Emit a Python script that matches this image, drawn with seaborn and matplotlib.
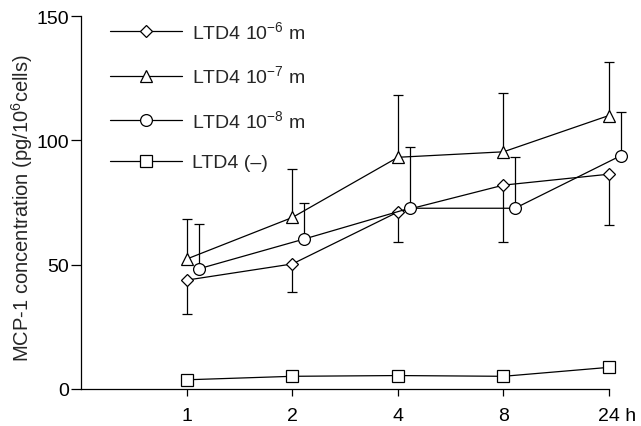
import numpy as np
import pandas as pd
import matplotlib
matplotlib.use("Agg")
import matplotlib.pyplot as plt
import matplotlib.transforms as mtransforms
from matplotlib.lines import Line2D
import seaborn as sns

# ---- data ----
time_labels = ["1", "2", "4", "8", "24 h"]
ltd4_1e6 = [43.8, 50.3, 71.2, 82.0, 86.4]
ltd4_1e6_err_down = [13.8, 11.2, 12.2, 22.8, 20.4]
ltd4_1e7 = [52.3, 69.0, 93.2, 95.4, 110.0]
ltd4_1e7_err_up = [16.1, 19.5, 25.1, 23.6, 21.4]
ltd4_1e8 = [48.3, 60.3, 72.7, 72.7, 93.8]
ltd4_1e8_err_up = [18.0, 14.4, 24.7, 20.8, 17.7]
ltd4_none = [3.7, 5.1, 5.4, 5.1, 8.7]

series_labels = [r"LTD4 10$^{\mathregular{-6}}$ m",
                 r"LTD4 10$^{\mathregular{-7}}$ m",
                 r"LTD4 10$^{\mathregular{-8}}$ m",
                 "LTD4 (\u2013)"]

# ---- styling ----
sns.set_style("ticks")
plt.rcParams["font.family"] = ["Liberation Sans", "DejaVu Sans"]
plt.rcParams["mathtext.fontset"] = "custom"
plt.rcParams["mathtext.rm"] = "Liberation Sans"
plt.rcParams["mathtext.it"] = "Liberation Sans:italic"
plt.rcParams["mathtext.bf"] = "Liberation Sans:bold"

fig = plt.figure(figsize=(6.41, 4.27), dpi=100)
ax = fig.add_axes([0.127, 0.0867, 0.823, 0.8733])

pos = np.arange(1, len(time_labels) + 1)
styles = [
    dict(marker="D", ms=6.0, dx=0.0),
    dict(marker="^", ms=8.0, dx=0.0),
    dict(marker="o", ms=8.5, dx=0.11),
    dict(marker="s", ms=8.0, dx=0.0),
]
values = [ltd4_1e6, ltd4_1e7, ltd4_1e8, ltd4_none]
errs = [(ltd4_1e6_err_down, -1), (ltd4_1e7_err_up, 1), (ltd4_1e8_err_up, 1), None]

lw = 0.9
for vals, st, lab, er in zip(values, styles, series_labels, errs):
    x = pos + st["dx"]
    y = np.array(vals)
    df = pd.DataFrame({"x": x, "y": y})
    if er is not None:
        e, sign = er
        tip = y + sign * np.array(e)
        ax.vlines(x, y, tip, color="black", lw=lw, zorder=2, clip_on=False)
        ax.plot(x, tip, ls="none", marker="_", ms=7.5, mew=lw, color="black", zorder=2, clip_on=False)
    sns.lineplot(data=df, x="x", y="y", ax=ax, color="black", lw=lw,
                 marker=st["marker"], markersize=st["ms"], markerfacecolor="white",
                 markeredgecolor="black", markeredgewidth=0.9, zorder=3,
                 clip_on=False, errorbar=None, sort=False)

ax.set_xlim(0, 5)
ax.set_ylim(0, 150)
ax.set_xticks(pos)
ax.set_xticklabels(time_labels)
ax.set_yticks([0, 50, 100, 150])
ax.tick_params(axis="both", labelsize=14, width=0.9, color="black", labelcolor="black")
ax.tick_params(axis="y", length=7, pad=2)
ax.tick_params(axis="x", length=5, pad=8)
for s in ["top", "right"]:
    ax.spines[s].set_visible(False)
for s in ["left", "bottom"]:
    ax.spines[s].set_linewidth(0.9)
    ax.spines[s].set_color("black")
ax.set_xlabel("")
ax.set_ylabel(r"MCP-1 concentration (pg/10$^{\mathregular{6}}$cells)", fontsize=14.5)
ax.yaxis.set_label_coords(-0.0877, 0.488)

# shift "24 h" so that "24" sits under the tick
lbls = ax.get_xticklabels()
last = lbls[-1]
last.set_horizontalalignment("left")
last.set_transform(last.get_transform() + mtransforms.ScaledTranslation(-8 / 72, 0, fig.dpi_scale_trans))

handles = [Line2D([], [], color="black", lw=lw, marker=st["marker"], ms=st["ms"],
                  mfc="white", mec="black", mew=0.9) for st in styles]
leg = ax.legend(handles, series_labels, loc="upper left", bbox_to_anchor=(0.054, 0.99),
                frameon=False, fontsize=14, handlelength=3.7, handletextpad=0.5,
                labelspacing=1.17, borderpad=0, borderaxespad=0, numpoints=1)

fig.savefig("out.png", dpi=100)
